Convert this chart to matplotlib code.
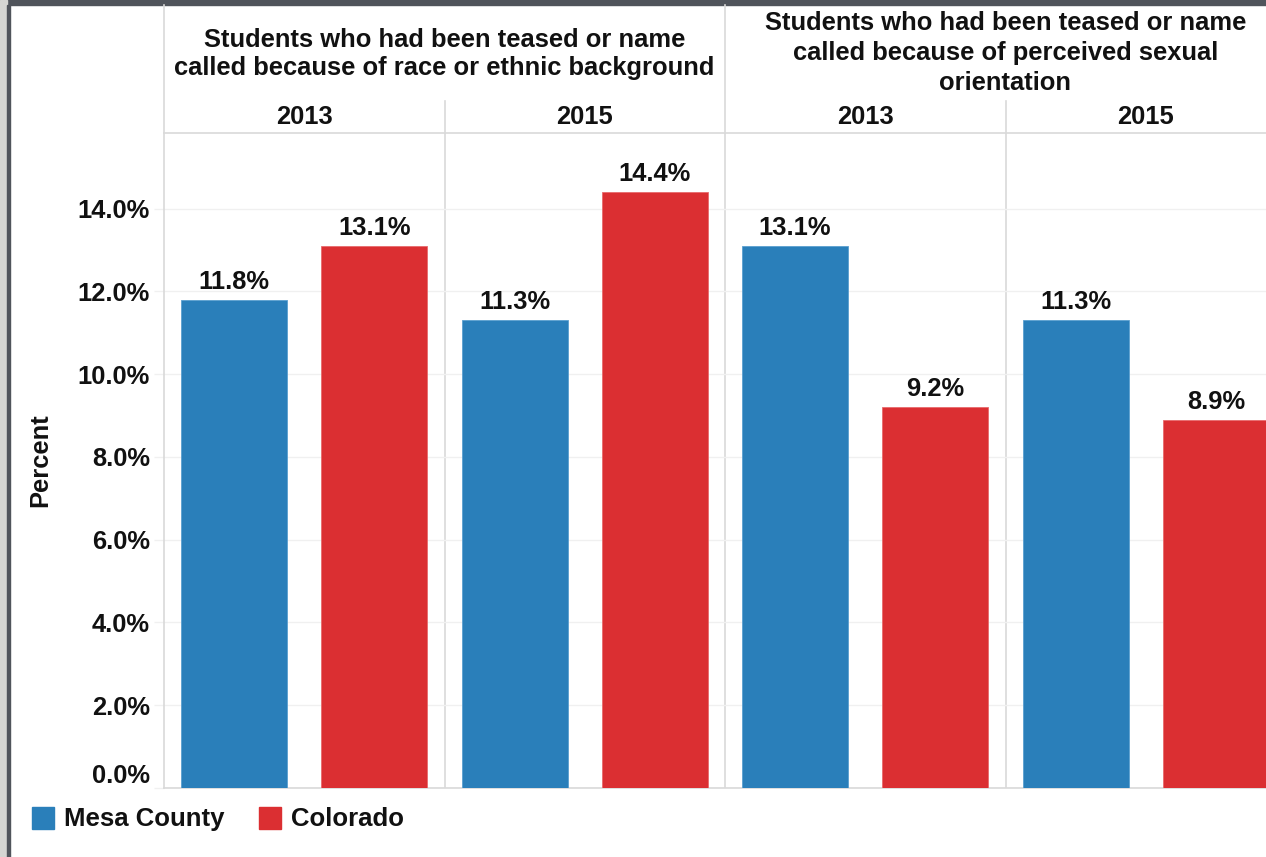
import matplotlib
matplotlib.use("Agg")
import matplotlib.pyplot as plt
from matplotlib.lines import Line2D
from matplotlib.patches import Rectangle

# data
group_titles = [
    "Students who had been teased or name\ncalled because of race or ethnic background",
    "Students who had been teased or name\ncalled because of perceived sexual\norientation",
]
years = ["2013", "2015", "2013", "2015"]
series = ["Mesa County", "Colorado"]
mesa = [11.8, 11.3, 13.1, 11.3]
colorado = [13.1, 14.4, 9.2, 8.9]
yticks = [0, 2, 4, 6, 8, 10, 12, 14]

BLUE = "#2a7fba"
RED = "#db2f32"
GRID = "#f0f0f0"
SEP = "#d9d9d9"
FS = 18.4

W, H = 1266, 857

plt.rcParams["font.family"] = ["Liberation Sans", "DejaVu Sans"]
plt.rcParams["font.weight"] = "bold"


def fx(px):
    return px / W


def fy(py):
    # pixel measured from top -> figure fraction
    return 1 - py / H


fig = plt.figure(figsize=(W / 100, H / 100), dpi=100)

# axes: left 164px, bottom 788px, top 133px, 8 bar slots of ~140px
ax_left, ax_top, ax_bottom = 164, 133, 788
slot = 140.25
ax = fig.add_axes([fx(ax_left), fy(ax_bottom), fx(8 * slot), (ax_bottom - ax_top) / H])

xs_blue = [2 * k for k in range(4)]
xs_red = [2 * k + 1 for k in range(4)]
bw = 0.755
ax.bar(xs_blue, mesa, width=bw, color=BLUE, edgecolor="#5a9fd0", linewidth=0.6, zorder=3)
ax.bar(xs_red, colorado, width=bw, color=RED, edgecolor="#e86a6c", linewidth=0.6, zorder=3)

for x, v in list(zip(xs_blue, mesa)) + list(zip(xs_red, colorado)):
    ax.text(x, v + 0.15, f"{v:.1f}%", ha="center", va="bottom",
            fontsize=FS, fontweight="bold", color="#111111", zorder=4)

ax.set_xlim(-0.5, 7.5)
ax.set_ylim(0, 15.83)
ax.set_xticks([])
ax.set_yticks(yticks)
ax.set_yticklabels([f"{t:.1f}%" for t in yticks])
ax.tick_params(axis="y", length=7, color=GRID, width=1, pad=3,
               labelsize=FS, labelcolor="#111111")
ax.get_yticklabels()[0].set_verticalalignment("bottom")
ax.yaxis.grid(True, color=GRID, linewidth=1, zorder=0)
for s in ["top", "right", "left"]:
    ax.spines[s].set_visible(False)
ax.spines["bottom"].set_color(SEP)
ax.spines["bottom"].set_linewidth(1.2)

# panel separators inside plot area
for b in [1.5, 3.5, 5.5]:
    ax.axvline(b, color=SEP, linewidth=1.2, zorder=1)

# frame / header lines drawn in figure coordinates
def fline(x0, y0, x1, y1, color=SEP, lw=1.2):
    fig.add_artist(Line2D([fx(x0), fx(x1)], [fy(y0), fy(y1)], color=color, linewidth=lw))

fline(ax_left, 5, ax_left, ax_bottom)          # left edge of panels
fline(ax_left, ax_top, W, ax_top)              # under the year row
fline(ax_left + 4 * slot, 5, ax_left + 4 * slot, ax_top)   # group separator
for k in [2, 6]:
    fline(ax_left + k * slot, 101, ax_left + k * slot, ax_top)  # year separators

# group titles, centred in the header cell
title_y = [54, 53]
title_ls = [1.18, 1.3]
for g, title in enumerate(group_titles):
    cx = 4 * g + 1.5
    ax.annotate(title, xy=(cx, H - title_y[g]), xycoords=("data", "figure pixels"),
                ha="center", va="center", fontsize=FS, fontweight="bold",
                linespacing=title_ls[g], color="#111111", annotation_clip=False)

# year row
for p, yr in enumerate(years):
    ax.annotate(yr, xy=(2 * p + 0.5, H - 117), xycoords=("data", "figure pixels"),
                ha="center", va="center", fontsize=FS, fontweight="bold",
                color="#111111", annotation_clip=False)

fig.text(fx(40), fy(460), "Percent", rotation=90, ha="center", va="center",
         fontsize=FS, fontweight="bold", color="#111111")

# legend
leg_items = [(32, BLUE, series[0]), (259, RED, series[1])]
for x0, c, name in leg_items:
    fig.add_artist(Rectangle((fx(x0), fy(829)), fx(22), 22 / H, color=c))
    fig.text(fx(x0 + 32), fy(819), name, ha="left", va="center",
             fontsize=18.5, fontweight="bold", color="#111111")

# screenshot border: dark top bar, grey strip and dark line on the left
fig.add_artist(Rectangle((0, fy(5)), 1, 5 / H, color="#50545b"))
fig.add_artist(Rectangle((0, 0), fx(7), 1, color="#d5d5d2"))
fig.add_artist(Rectangle((fx(7), 0), fx(2.5), fy(5), color="#50545b"))

fig.savefig("out.png", dpi=100)
